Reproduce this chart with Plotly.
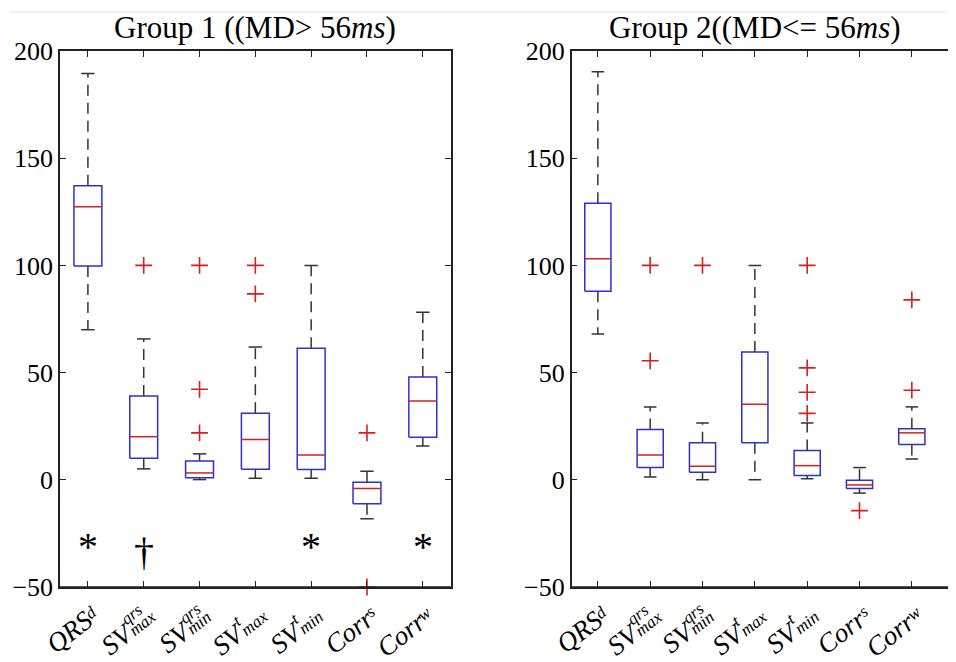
import math
import plotly.graph_objects as go

# ---------------- data ----------------
categories = [1, 2, 3, 4, 5, 6, 7]
label_main = ["QRS", "SV", "SV", "SV", "SV", "Corr", "Corr"]
label_sup = ["", "qrs", "qrs", "t", "t", "", ""]
label_sub = ["d", "max", "min", "max", "min", "s", "w"]
y_ticks = [-50, 0, 50, 100, 150, 200]

g1_lower = [70.0, 5.1, 0.1, 0.7, 0.7, -18.2, 15.8]
g1_q1 = [99.7, 10.1, 0.9, 4.9, 4.8, -11.2, 19.9]
g1_median = [127.3, 20.1, 3.2, 18.8, 11.6, -4.0, 36.8]
g1_q3 = [137.2, 39.1, 8.8, 31.0, 61.4, -1.2, 47.9]
g1_upper = [189.5, 65.7, 12.1, 61.9, 100.0, 4.0, 78.1]
g1_outliers = [[], [100], [100, 42.2, 21.9], [100, 86.7], [], [21.9, -50], []]
g1_marks = ["*", "†", "", "", "*", "", "*"]
g1_mark_y = -28

g2_lower = [68.0, 1.3, 0.0, 0.0, 0.5, -6.2, 9.7]
g2_q1 = [88.0, 5.7, 3.5, 17.3, 2.0, -4.1, 16.5]
g2_median = [103.1, 11.6, 6.3, 35.2, 6.6, -2.4, 21.9]
g2_q3 = [129.0, 23.5, 17.3, 59.6, 13.7, -0.2, 23.8]
g2_upper = [190.3, 34.0, 26.5, 100.0, 26.5, 5.7, 34.0]
g2_outliers = [[], [100, 55.5], [100], [], [100, 52.2, 40.8, 31.0], [-14.4], [83.9, 41.8]]

title1 = "Group 1 ((MD> 56<i>ms</i>)"
title2 = "Group 2((MD<= 56<i>ms</i>)"

# ---------------- style ----------------
BLUE = "#3030cc"
RED = "#d42020"
WHISK = "#333333"
FONT = "Liberation Serif"
HW = 0.25   # box half width
CW = 0.12   # cap half width
OFF = 8     # page body margin in px

W, H = 956 - OFF, 662 - OFF
fig = go.Figure()


def add_group(xa, ya, lower, q1, med, q3, upper, outl):
    bx, by, mx, my, wx, wy, cx, cy, ox, oy = [], [], [], [], [], [], [], [], [], []
    for i, c in enumerate(categories):
        bx += [c - HW, c + HW, c + HW, c - HW, c - HW, None]
        by += [q1[i], q1[i], q3[i], q3[i], q1[i], None]
        mx += [c - HW, c + HW, None]
        my += [med[i], med[i], None]
        wx += [c, c, None, c, c, None]
        wy += [q3[i], upper[i], None, q1[i], lower[i], None]
        cx += [c - CW, c + CW, None, c - CW, c + CW, None]
        cy += [upper[i], upper[i], None, lower[i], lower[i], None]
        for v in outl[i]:
            ox.append(c)
            oy.append(v)
    common = dict(xaxis=xa, yaxis=ya, showlegend=False, hoverinfo="skip", mode="lines")
    fig.add_trace(go.Scatter(x=wx, y=wy, line=dict(color=WHISK, width=1.5, dash="11px,7px"), **common))
    fig.add_trace(go.Scatter(x=cx, y=cy, line=dict(color=WHISK, width=1.5), **common))
    fig.add_trace(go.Scatter(x=bx, y=by, line=dict(color=BLUE, width=1.5), **common))
    fig.add_trace(go.Scatter(x=mx, y=my, line=dict(color=RED, width=1.5), **common))
    fig.add_trace(go.Scatter(x=ox, y=oy, mode="markers", xaxis=xa, yaxis=ya, showlegend=False,
                             cliponaxis=False, hoverinfo="skip",
                             marker=dict(symbol="cross-thin", size=12, line=dict(color=RED, width=1.6))))


add_group("x", "y", g1_lower, g1_q1, g1_median, g1_q3, g1_upper, g1_outliers)
add_group("x2", "y2", g2_lower, g2_q1, g2_median, g2_q3, g2_upper, g2_outliers)

# --------- rotated tick labels built from text pieces ---------
ITAL_W = {"Q": .722, "R": .611, "S": .5, "V": .611, "C": .667, "o": .5, "r": .389, "q": .5,
          "s": .389, "m": .722, "a": .5, "x": .444, "i": .278, "n": .5, "t": .278, "d": .5, "w": .667}


def tw(txt, size):
    return sum(ITAL_W.get(ch, 0.5) for ch in txt) * size


F_MAIN, F_SCR = 27, 17
TH = math.radians(38)
U = (math.cos(TH), -math.sin(TH))     # along text (screen coords, y down)
N = (-math.sin(TH), -math.cos(TH))    # text "up"
E = (8, 25)                           # end of label relative to tick / axis


def label_annots(xref):
    out = []
    for c, m, sup, sub in zip(categories, label_main, label_sup, label_sub):
        ws = max(tw(sub, F_SCR), tw(sup, F_SCR))
        wm = tw(m, F_MAIN)
        pieces = []
        d = ws + wm / 2
        pieces.append((m, F_MAIN, E[0] - U[0] * d, E[1] - U[1] * d))
        r_sub = -3 if sup else 3
        d = ws - tw(sub, F_SCR) / 2
        pieces.append((sub, F_SCR, E[0] - U[0] * d + N[0] * r_sub, E[1] - U[1] * d + N[1] * r_sub))
        if sup:
            d = ws - tw(sup, F_SCR) / 2
            r = 10
            pieces.append((sup, F_SCR, E[0] - U[0] * d + N[0] * r, E[1] - U[1] * d + N[1] * r))
        for txt, size, dx, dy in pieces:
            out.append(dict(x=c, y=0, xref=xref, yref="paper", text="<i>" + txt + "</i>",
                            showarrow=False, textangle=-38, xanchor="center", yanchor="middle",
                            borderpad=0, xshift=dx, yshift=-dy,
                            font=dict(family=FONT, size=size, color="black")))
    return out


annotations = label_annots("x") + label_annots("x2")
for c, m in zip(categories, g1_marks):
    if m:
        annotations.append(dict(x=c, y=g1_mark_y, xref="x", yref="y", text=m, showarrow=False,
                                font=dict(family=FONT, size=40, color="black"),
                                yshift=-7 if m == "*" else -12))
annotations.append(dict(x=4, y=1, xref="x", yref="paper", text=title1, showarrow=False,
                        yanchor="bottom", yshift=4, font=dict(family=FONT, size=31, color="black")))
annotations.append(dict(x=4, y=1, xref="x2", yref="paper", text=title2, showarrow=False,
                        yanchor="bottom", yshift=4, font=dict(family=FONT, size=31, color="black")))

axis_font = dict(family=FONT, size=26, color="black")
xcommon = dict(tickmode="array", tickvals=categories, ticktext=[""] * len(categories),
               ticks="inside", ticklen=6, tickcolor="#222", showline=True, linecolor="#222",
               linewidth=1.5, mirror="ticks", showgrid=False, zeroline=False,
               layer="above traces", automargin=False)
ycommon = dict(range=[-50, 200], tickmode="array", tickvals=y_ticks, ticks="inside", ticklen=6,
               tickcolor="#222", showline=True, linecolor="#222", linewidth=1.5,
               showgrid=False, zeroline=False, tickfont=axis_font, domain=[0, 1],
               layer="above traces", automargin=False)

top_px, bot_px = 51 - OFF, 587 - OFF
shapes = [dict(type="line", xref="paper", yref="paper", x0=(10 - OFF) / W, x1=1.0,
               y0=1 + 39 / (bot_px - top_px), y1=1 + 39 / (bot_px - top_px),
               line=dict(color="#e6e6e6", width=1))]
# bottom frame lines drawn above the unclipped outlier markers
for xr, yr in (("x domain", "y domain"), ("x2 domain", "y2 domain")):
    shapes.append(dict(type="line", xref=xr, yref=yr, x0=0, x1=1, y0=0, y1=0, layer="above",
                       line=dict(color="#222", width=1.5)))

fig.update_layout(
    width=W, height=H,
    margin=dict(l=0, r=0, t=top_px, b=H - bot_px),
    paper_bgcolor="white", plot_bgcolor="white",
    xaxis=dict(xcommon, domain=[(60 - OFF) / W, (450.7 - OFF) / W], range=[0.5, 7.5], anchor="y"),
    yaxis=dict(ycommon, anchor="x", mirror="ticks"),
    xaxis2=dict(xcommon, domain=[(571.7 - OFF) / W, 1.0], range=[0.5, 7.844], anchor="y2"),
    yaxis2=dict(ycommon, anchor="x2", mirror=False),
    annotations=annotations,
    shapes=shapes,
)

fig.write_html("out.html")
